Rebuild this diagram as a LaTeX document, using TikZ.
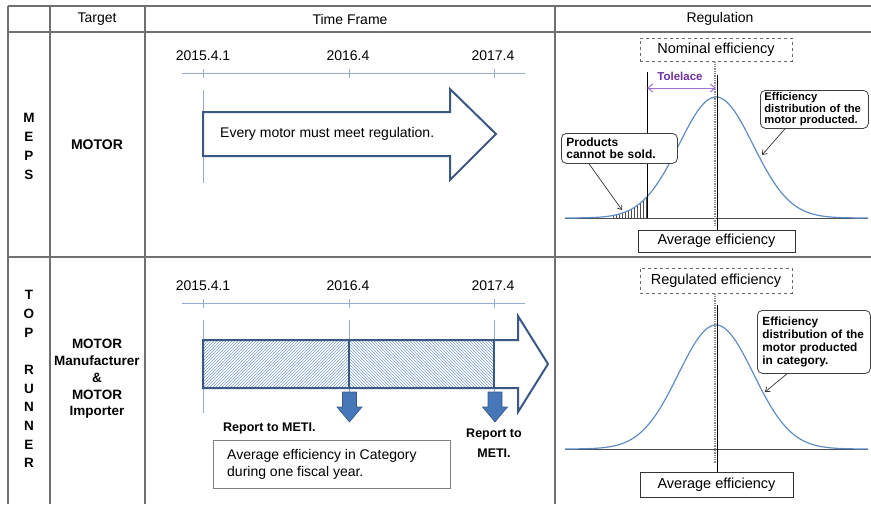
\documentclass[tikz,border=0pt]{standalone}
\usepackage{fontspec}
\setmainfont{Liberation Sans}
\usetikzlibrary{patterns,arrows.meta}
\definecolor{gridgray}{RGB}{112,112,112}
\definecolor{arrowblue}{RGB}{58,88,132}
\definecolor{axisblue}{RGB}{150,172,205}
\definecolor{hatchblue}{RGB}{120,160,212}
\definecolor{fillblue}{RGB}{70,120,185}
\definecolor{curveblue}{RGB}{95,140,196}
\definecolor{tolpurple}{RGB}{112,48,160}
\definecolor{tolarrow}{RGB}{160,112,210}
\begin{document}
\begin{tikzpicture}[x=1pt,y=-1pt,
  tbl/.style={draw=gridgray, line width=1.6pt},
  t14/.style={font=\fontsize{14}{16}\selectfont, inner sep=0pt},
  b14/.style={font=\bfseries\fontsize{14}{16}\selectfont, inner sep=0pt},
  letter/.style={font=\bfseries\fontsize{13.5}{16}\selectfont, inner sep=0pt},
  axis/.style={draw=axisblue, line width=1pt},
  marker/.style={draw=axisblue, line width=0.9pt},
  bigarrow/.style={draw=arrowblue, line width=2pt, line join=miter},
  downarrow/.style={fill=fillblue, draw=arrowblue, line width=0.6pt},
  curve/.style={draw=curveblue, line width=1.2pt},
  baseline/.style={draw=black!70, line width=1pt},
  callout/.style={draw=black!75, fill=white, rounded corners=5pt, line width=0.8pt,
    align=left, inner xsep=5pt, inner ysep=2pt,
    font=\bfseries\fontsize{12}{12}\selectfont},
  ptr/.style={draw=black!80, line width=0.7pt, -{Straight Barb[length=4pt,width=6pt]}},
  effbox/.style={draw=black!80, fill=white, line width=0.8pt, inner sep=0pt,
    font=\fontsize{14.5}{16}\selectfont},
  dashbox/.style={draw=black!60, dashed, line width=1pt, inner sep=0pt,
    font=\fontsize{14.5}{16}\selectfont},
  dotline/.style={draw=black!45, densely dotted, line width=1.3pt},
  limline/.style={draw=black, line width=0.9pt},
  tailhatch/.style={draw=black!70, line width=0.6pt},
  tol/.style={draw=tolarrow, line width=1pt, {Straight Barb[length=5pt,width=8pt]}-{Straight Barb[length=5pt,width=8pt]}}
]
\useasboundingbox (0,0) rectangle (871,504);

% ---------------- table grid ----------------
\draw[tbl] (8,6) -- (871,6);
\draw[tbl] (8,32) -- (871,32);
\draw[tbl] (8,257) -- (871,257);
\foreach \gx in {8,50,145,555} \draw[tbl] (\gx,6) -- (\gx,504);

\node[t14] (hTarget) at (97,19) {Target};
\node[t14] (hTime) at (350,19) {Time Frame};
\node[t14] (hReg) at (720,19) {Regulation};

% row labels
\foreach \ch [count=\i from 0] in {M,E,P,S}
  \node[letter] (meps\i) at (29,{118+19*\i}) {\ch};
\foreach \ch/\k in {T/0,O/1,P/2,R/4,U/5,N/6,N/7,E/8,R/9}
  \node[letter] (top\k) at (29,{295+18.7*\k}) {\ch};

\node[b14] (tgtA) at (97,145) {MOTOR};
\node[align=center, inner sep=0pt, font=\bfseries\fontsize{13.5}{16.8}\selectfont]
  (tgtB) at (97,379) {MOTOR\\Manufacturer\\\&\\MOTOR\\Importer};

% ---------------- MEPS time frame ----------------
\draw[axis] (182,73) -- (525,73);
\foreach \tx in {203,349,494} \draw[axis] (\tx,69) -- (\tx,78);
\node[t14] (dA1) at (203,56) {2015.4.1};
\node[t14] (dA2) at (348,56) {2016.4};
\node[t14] (dA3) at (493,56) {2017.4};
\draw[marker] (203,90) -- (203,183);

\draw[bigarrow, fill=white] (203,112) -- (450,112) -- (450,89) -- (496,134)
  -- (450,180) -- (450,156) -- (203,156) -- cycle;
\node[t14, anchor=west] (every) at (220,134) {Every motor must meet regulation.};

% ---------------- TOP RUNNER time frame ----------------
\draw[axis] (182,303) -- (525,303);
\foreach \tx in {203,349,494} \draw[axis] (\tx,299) -- (\tx,308);
\node[t14] (dB1) at (203,286) {2015.4.1};
\node[t14] (dB2) at (348,286) {2016.4};
\node[t14] (dB3) at (493,286) {2017.4};
\foreach \tx in {203,349,494} \draw[marker] (\tx,320) -- (\tx,413);

\fill[white] (203,340) rectangle (494,388);
\fill[pattern=north east lines, pattern color=hatchblue] (203,340) rectangle (349,388);
\fill[pattern=north west lines, pattern color=hatchblue] (349,340) rectangle (494,388);
\draw[bigarrow] (203,340) -- (518,340) -- (518,316) -- (548,364)
  -- (518,412) -- (518,388) -- (203,388) -- cycle;
\draw[bigarrow] (349,340) -- (349,388);
\draw[bigarrow] (494,340) -- (494,388);

% report arrows
\foreach \cx in {349.5,495}
  \draw[downarrow] ({\cx-7},392) -- ({\cx+7},392) -- ({\cx+7},407) -- ({\cx+12.5},407)
    -- (\cx,422) -- ({\cx-12.5},407) -- ({\cx-7},407) -- cycle;

\node[anchor=west, inner sep=0pt, font=\bfseries\fontsize{12.5}{14}\selectfont]
  (rep1) at (223,428) {Report to METI.};
\node[align=center, inner sep=0pt, font=\bfseries\fontsize{12.5}{20}\selectfont]
  (rep2) at (494,443) {Report to\\METI.};

\node[draw=black!50, line width=0.8pt, anchor=north west, minimum width=237pt,
  minimum height=48pt, inner sep=0pt] (avgbox) at (213,440) {};
\node[anchor=west, align=left, inner sep=0pt, font=\fontsize{14}{17}\selectfont]
  (avgtxt) at (227,464) {Average efficiency in Category\\during one fiscal year.};

% ---------------- MEPS regulation ----------------
\foreach \hx in {613,616,...,646}
  \draw[tailhatch] (\hx,218) -- (\hx,{218-121*exp(-0.5*((\hx-716)/37)^2)});
\draw[baseline] (565,218) -- (868,218);
\draw[curve] plot[domain=565:868, samples=160, smooth]
  (\x,{218-121*exp(-0.5*((\x-716)/37)^2)});

\node[dashbox, minimum width=152pt, minimum height=23pt] (nom) at (716,49.5) {Nominal efficiency};
\node[effbox, minimum width=157pt, minimum height=22pt] (avgA) at (716.5,241) {Average efficiency};
\draw[dotline] (nom.south -| 715,0) -- (715,227);
\draw[limline] (717,75) -- (avgA.north -| 717,0);
\draw[limline] (647,72) -- (647,218);

\coordinate (tolL) at (647,88);
\coordinate (tolR) at (716,88);
\draw[tol] (tolL) -- (tolR);
\node[inner sep=0pt, text=tolpurple, font=\bfseries\fontsize{11.5}{13}\selectfont]
  (tolLabel) at (680,76) {Tolelace};

\node[callout, anchor=north west, text width=106pt, minimum height=30pt]
  (cA) at (561,133) {Products\\cannot be sold.};
\coordinate (tailPt) at (622,210);
\draw[ptr] ([xshift=28pt]cA.south west) -- (tailPt);

\node[callout, anchor=north west, text width=100pt, minimum height=38pt,
  inner xsep=4pt, font=\bfseries\fontsize{11.2}{11.6}\selectfont]
  (cB) at (760,90) {Efficiency\\distribution of the\\motor producted.};
\coordinate (curvePtA) at (762,155);
\draw[ptr] ([xshift=25pt]cB.south west) -- (curvePtA);

% ---------------- TOP RUNNER regulation ----------------
\draw[baseline] (565,449) -- (868,449);
\draw[curve] plot[domain=565:868, samples=160, smooth]
  (\x,{449-124*exp(-0.5*((\x-716)/37.5)^2)});

\node[dashbox, minimum width=152pt, minimum height=25pt] (regd) at (716,280.5) {Regulated efficiency};
\node[effbox, minimum width=153pt, minimum height=25pt] (avgB) at (716.5,484.5) {Average efficiency};
\draw[dotline] (regd.south -| 715,0) -- (715,463);
\draw[limline] (717,305) -- (avgB.north -| 717,0);

\node[callout, anchor=north west, text width=103pt, minimum height=63pt,
  font=\bfseries\fontsize{11.8}{13.2}\selectfont]
  (cC) at (757,310) {Efficiency\\distribution of the\\motor producted\\in category.};
\coordinate (curvePtB) at (765,392);
\draw[ptr] ([xshift=30pt]cC.south west) -- (curvePtB);

\end{tikzpicture}
\end{document}
